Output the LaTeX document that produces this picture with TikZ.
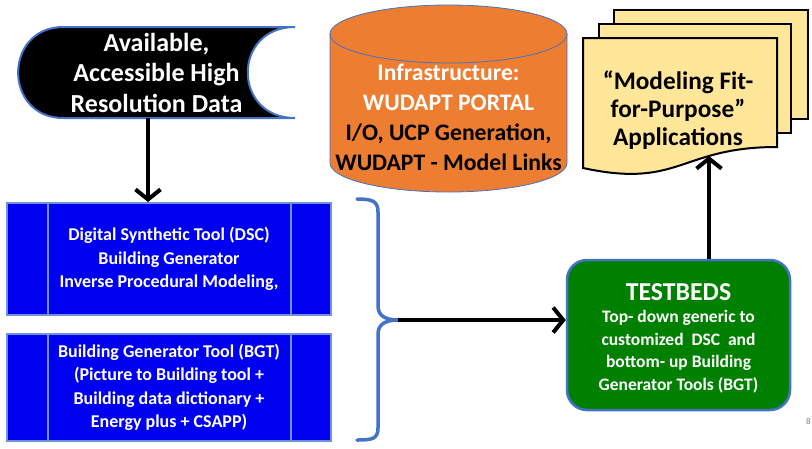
\documentclass[tikz,border=0pt]{standalone}
\usepackage{fontspec}
\setmainfont{Carlito}
\usepackage{tikz}
\usetikzlibrary{shapes.geometric, arrows.meta, positioning, calc}
\definecolor{accentblue}{RGB}{68,114,196}
\definecolor{procblue}{RGB}{0,0,240}
\definecolor{procedge}{RGB}{112,146,214}
\definecolor{testgreen}{RGB}{0,128,0}
\definecolor{portalorange}{RGB}{237,125,49}
\definecolor{docyellow}{RGB}{255,230,153}
\tikzset{
  proc/.style={
    rectangle, fill=procblue, draw=procedge, line width=2pt,
    minimum width=324pt, text=white, align=center,
    font=\fontsize{18}{23.5}\selectfont\bfseries
  },
  datatxt/.style={minimum width=277pt, minimum height=91pt, text=white,
    align=center, font=\fontsize{26}{30.5}\selectfont\bfseries},
  datashape/.style={fill=black, draw=accentblue, line width=2pt},
  tbed/.style={rectangle, rounded corners=20pt, fill=testgreen,
    draw=accentblue, line width=2.5pt, minimum width=223pt,
    minimum height=150pt, text=white, align=center,
    font=\fontsize{17.5}{22.5}\selectfont\bfseries},
  drum/.style={fill=portalorange, draw=accentblue, line width=0.8pt},
  portaltxt/.style={align=center, text=black,
    font=\fontsize{23.7}{30}\selectfont\bfseries},
  page/.style={fill=docyellow, draw=black, line width=2pt},
  doctxt/.style={align=center, text=black,
    font=\fontsize{25.3}{28}\selectfont\bfseries},
  arr/.style={-{Straight Barb[length=10pt, width=25pt]}, line width=4pt},
  brace/.style={draw=accentblue, line width=3.5pt, line cap=round}
}

\begin{document}
\begin{tikzpicture}[x=1pt, y=-1pt]
  \useasboundingbox (0,0) rectangle (812,448);

  % stored data
  \draw[datashape] (63.5,27) -- (295,27)
    .. controls (232,27) and (232,118) .. (295,118) -- (63.5,118)
    .. controls (3,118) and (3,27) .. (63.5,27) -- cycle;
  \node[datatxt] (data) at (156.5,72.5)
        {Available,\\Accessible High\\Resolution Data};

  % tools
  \node[proc, minimum height=112pt] (dsc) at (169,259)
        {Digital Synthetic Tool (DSC)\\Building Generator\\Inverse Procedural Modeling,};
  \node[proc, minimum height=107pt, below=17pt of dsc] (bgt)
        {Building Generator Tool (BGT)\\(Picture to Building tool +\\Building data dictionary +\\Energy plus + CSAPP)};
  \foreach \b in {dsc,bgt} {
    \draw[procedge, line width=2pt] ([xshift=42pt]\b.north west) -- ([xshift=42pt]\b.south west);
    \draw[procedge, line width=2pt] ([xshift=-41pt]\b.north east) -- ([xshift=-41pt]\b.south east);
  }

  % portal
  \draw[drum] (330,34) -- (330,163)
    .. controls (330,179) and (383.1,192) .. (448.5,192)
    .. controls (513.9,192) and (567,179) .. (567,163) -- (567,34) -- cycle;
  \draw[drum] (448.5,34) ellipse [x radius=118.5, y radius=29];
  \node[portaltxt] (portal) at (448.5,117)
        {\textcolor{white}{Infrastructure:}\\\textcolor{white}{WUDAPT PORTAL}\\I/O, UCP Generation,\\WUDAPT - Model Links};

  % applications
  \draw[page] (614,10) -- (808,10) -- (808,119) -- (614,119) -- cycle;
  \draw[page] (599,24) -- (791,24) -- (791,133) -- (599,133) -- cycle;
  \draw[page] (583,38) -- (777,38) -- (777,147)
    .. controls (680,147) and (680,189) .. (583,168) -- cycle;
  \node[doctxt] (apps) at (678,110)
        {“Modeling Fit-\\for-Purpose”\\Applications};
  \coordinate (appsbot) at (709,156);

  % testbeds
  \node[tbed] (testbeds) at (678.5,335) {};
  \node[text=white, align=center, font=\fontsize{17.5}{22.5}\selectfont\bfseries]
        (tbtxt) at (678.5,338)
        {{\fontsize{25.8}{30}\selectfont TESTBEDS}\\Top- down generic to\\customized~ DSC~ and\\bottom- up Building\\Generator Tools (BGT)};

  % brace
  \draw[brace] (357,199) .. controls (372,199) and (378,201) .. (378,212)
    -- (378,306) .. controls (378,316) and (386,320) .. (398,320)
    .. controls (386,320) and (378,324) .. (378,334)
    -- (378,428) .. controls (378,439) and (372,440) .. (357,440);
  \coordinate (bracetip) at (398,320);

  \draw[arr] ([xshift=-8.5pt]data.south) -- ([xshift=-8.5pt]data.south |- dsc.north);
  \draw[arr] (bracetip) -- (bracetip -| testbeds.west);
  \draw[arr] (testbeds.north -| appsbot) -- (appsbot);

  \node[text=gray, font=\fontsize{9}{9}\selectfont, anchor=east, inner sep=1pt] (pagenum) at (812,421) {8};

\end{tikzpicture}
\end{document}
